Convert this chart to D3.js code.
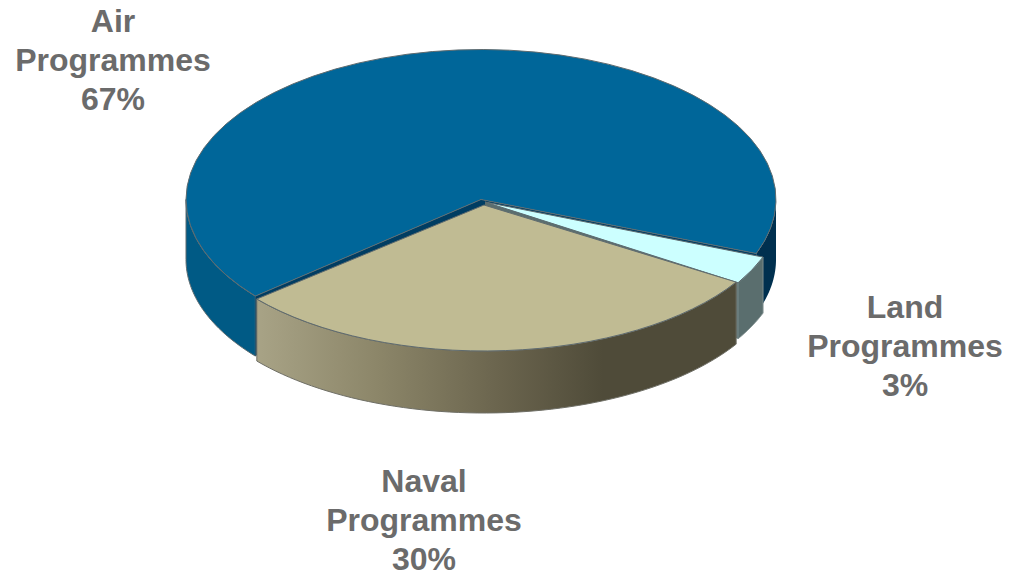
<!DOCTYPE html>
<html>
<head>
<meta charset="utf-8">
<script src="https://cdn.jsdelivr.net/npm/d3@7"></script>
<style>
  html, body { margin: 0; padding: 0; background: #fff; }
  svg { display: block; }
  text { font-family: "Liberation Sans", Arial, sans-serif; font-weight: bold; font-size: 32px; fill: #6b6b6b; }
</style>
</head>
<body>
<svg id="chart" width="1018" height="571"></svg>
<script>
// chart values
const categories = ['Air', 'Land', 'Naval'];
const shares = [67, 3, 30];

let svg = d3.select('#chart');

const startAngle = 229.9 * Math.PI / 180;

let pie = d3.pie().sort(null).startAngle(startAngle).endAngle(startAngle + 2 * Math.PI);
let slices = pie(shares);
let unitArc = d3.arc().innerRadius(0).outerRadius(1);

// where each slice sits once it is pulled out of the pie, and its size on screen
const shapes = {
  Air: { cx: 481, cy: 199.5, rx: 295, ry: 150, depth: 60 },
  Land: { cx: 485, cy: 202, rx: 298, ry: 153, depth: 56 },
  Naval: { cx: 484, cy: 205, rx: 297, ry: 146, depth: 62 }
};
const topColor = { Air: '#006699', Land: '#ccffff', Naval: '#c0bb93' };

let defs = svg.append('defs');
let grad = defs.append('linearGradient')
  .attr('id', 'navalSide')
  .attr('gradientUnits', 'userSpaceOnUse')
  .attr('x1', 257).attr('x2', 737).attr('y1', 0).attr('y2', 0);
grad.append('stop').attr('offset', 0).attr('stop-color', '#a8a386');
grad.append('stop').attr('offset', 0.25).attr('stop-color', '#8c8669');
grad.append('stop').attr('offset', 0.5).attr('stop-color', '#6b654e');
grad.append('stop').attr('offset', 0.72).attr('stop-color', '#4f4b39');
grad.append('stop').attr('offset', 1).attr('stop-color', '#4f4b39');

function rimPoint(s, a, dy) {
  return [s.cx + s.rx * Math.sin(a), s.cy - s.ry * Math.cos(a) + (dy || 0)];
}

// curved outer wall between two angles
function wallPath(s, a0, a1) {
  let steps = d3.range(0, 61).map(i => a0 + (a1 - a0) * i / 60);
  let upper = steps.map(a => rimPoint(s, a));
  let lower = steps.slice().reverse().map(a => rimPoint(s, a, s.depth));
  return d3.line()(upper.concat(lower)) + 'Z';
}

// flat wall from the centre to the rim
function cutPath(s, a) {
  let p = rimPoint(s, a);
  return d3.line()([[s.cx, s.cy], p, [p[0], p[1] + s.depth], [s.cx, s.cy + s.depth]]) + 'Z';
}

function addShape(d, fill, stroke) {
  svg.append('path')
    .attr('d', d)
    .attr('fill', fill)
    .attr('stroke', stroke || 'none')
    .attr('stroke-width', stroke ? 1 : 0);
}

function addTop(slice, name) {
  let s = shapes[name];
  svg.append('path')
    .attr('d', unitArc(slice))
    .attr('transform', `translate(${s.cx},${s.cy}) scale(${s.rx},${s.ry})`)
    .attr('fill', topColor[name])
    .attr('stroke', '#5f6b6f')
    .attr('stroke-width', 1)
    .style('vector-effect', 'non-scaling-stroke');
}

let air = slices[0], land = slices[1], naval = slices[2];

// air: walls first, then the top
addShape(wallPath(shapes.Air, air.startAngle, 1.5 * Math.PI), '#005a85', '#5f6b6f');
addShape(wallPath(shapes.Air, 2.5 * Math.PI, air.endAngle), '#00304f');
addShape(cutPath(shapes.Air, air.startAngle), '#003d62');
addShape(cutPath(shapes.Air, air.endAngle), '#003d62');
addTop(air, 'Air');

// land
addShape(cutPath(shapes.Land, land.endAngle), '#5a6e6e');
addShape(wallPath(shapes.Land, land.startAngle, land.endAngle), '#5a6e6e', '#7c8c8c');
addTop(land, 'Land');

// naval
addShape(wallPath(shapes.Naval, naval.startAngle, naval.endAngle), 'url(#navalSide)', '#6f6f66');
addTop(naval, 'Naval');

// labels
const labelPos = [[113, 32], [905, 318], [424, 491.5]];
categories.forEach((name, i) => {
  let t = svg.append('text').attr('text-anchor', 'middle');
  [name, 'Programmes', shares[i] + '%'].forEach((line, j) => {
    t.append('tspan')
      .attr('x', labelPos[i][0])
      .attr('y', labelPos[i][1] + j * 39)
      .text(line);
  });
});
</script>
</body>
</html>
